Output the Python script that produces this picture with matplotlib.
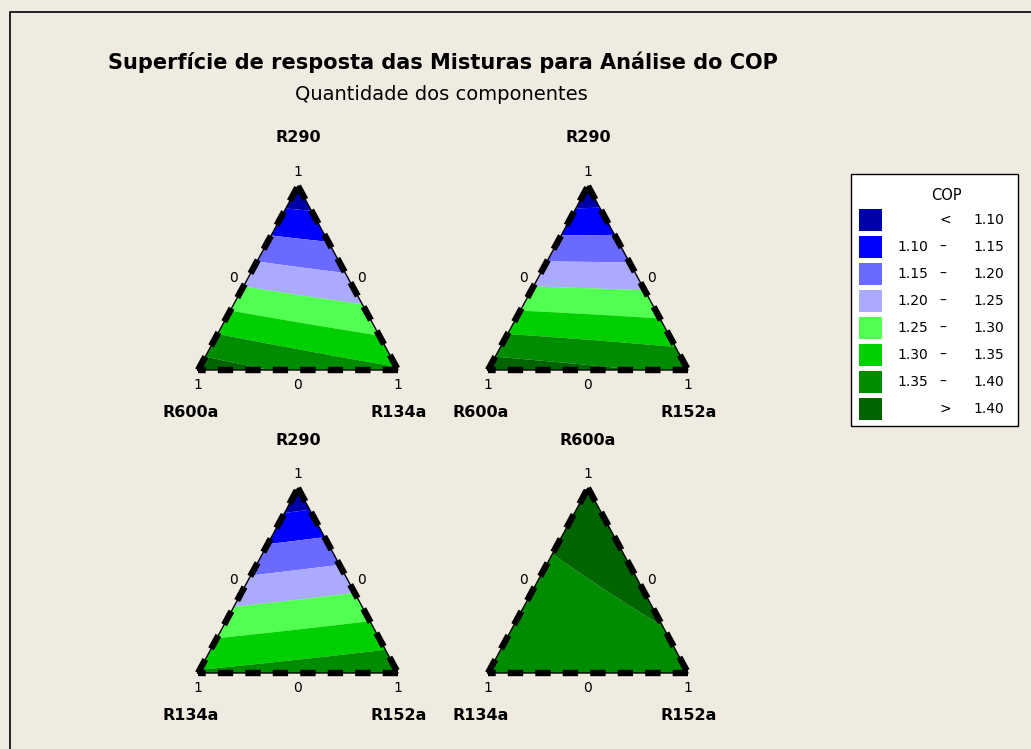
import numpy as np
import matplotlib
matplotlib.use("Agg")
import matplotlib.pyplot as plt
import matplotlib.tri as mtri
from matplotlib.patches import Rectangle

W, H = 1031, 749

# Scheffé quadratic mixture model for COP:
# COP of each pure refrigerant and of each 50/50 binary blend
components = ["R290", "R600a", "R134a", "R152a"]
pure_cop = [1.060, 1.430, 1.355, 1.390]
binary_pairs = [("R290", "R600a"), ("R290", "R134a"), ("R290", "R152a"),
                ("R600a", "R134a"), ("R600a", "R152a"), ("R134a", "R152a")]
binary_mid_cop = [1.233, 1.208, 1.228, 1.389, 1.410, 1.372]

# Contour bands
levels = [1.10, 1.15, 1.20, 1.25, 1.30, 1.35, 1.40]
band_colors = ["#0000AA", "#0000FF", "#6A6AFF", "#AAAAFF",
               "#50FF50", "#00D000", "#008C00", "#006400"]

# Panels: (top, left, right) vertex components
panels = [("R290", "R600a", "R134a"),
          ("R290", "R600a", "R152a"),
          ("R290", "R134a", "R152a"),
          ("R600a", "R134a", "R152a")]

title = "Superfície de resposta das Misturas para Análise do COP"
subtitle = "Quantidade dos componentes"
legend_title = "COP"

BG = "#EFEBE1"

# panel placement in pixels: left x of base, base y, apex y
panel_boxes = [(198, 370, 186), (488, 370, 186), (198, 673, 488), (488, 673, 488)]


def cop_model(frac):
    """frac: dict component -> array of proportions"""
    idx = {c: i for i, c in enumerate(components)}
    z = 0.0
    for c, x in frac.items():
        z = z + pure_cop[idx[c]] * x
    for (a, b), m in zip(binary_pairs, binary_mid_cop):
        if a in frac and b in frac:
            bij = 4.0 * (m - 0.5 * (pure_cop[idx[a]] + pure_cop[idx[b]]))
            z = z + bij * frac[a] * frac[b]
    return z


# triangular grid of mixture points
n = 160
tops, rights = [], []
for i in range(n + 1):
    for j in range(n + 1 - i):
        tops.append(i / n)
        rights.append(j / n)
tops = np.array(tops)
rights = np.array(rights)
lefts = 1.0 - tops - rights
gx = rights + 0.5 * tops
gy = tops
triang = mtri.Triangulation(gx, gy)

fig = plt.figure(figsize=(W / 100, H / 100), dpi=100, facecolor=BG)


def ftext(x, y, s, **kw):
    kw.setdefault("ha", "center")
    kw.setdefault("va", "center")
    fig.text(x / W, 1 - y / H, s, **kw)


# outer frame
fig.patches.append(Rectangle((10 / W, -0.05), 1.2, 1 - 12 / H + 0.05,
                             transform=fig.transFigure, fill=False,
                             edgecolor="black", linewidth=1.2))

fill_levels = [0.0] + levels + [3.0]
for (top, left, right), (x0, base, apex) in zip(panels, panel_boxes):
    ax = fig.add_axes([x0 / W, 1 - base / H, 200 / W, (base - apex) / H])
    ax.set_xlim(0, 1)
    ax.set_ylim(0, 1)
    ax.axis("off")
    z = cop_model({top: tops, left: lefts, right: rights})
    ax.tricontourf(triang, z, levels=fill_levels, colors=band_colors,
                   antialiased=True)
    ax.plot([0, 0.5, 1, 0], [0, 1, 0, 0], color="black", lw=1.0,
            clip_on=False)
    for xs, ys in (([0, 0.5], [0, 1]), ([0.5, 1], [1, 0]), ([1, 0], [0, 0])):
        ax.plot(xs, ys, color="black", lw=4.6, ls=(0, (2.4, 1.9)),
                dash_capstyle="butt", clip_on=False)

    xm = x0 + 100
    ymid = 0.5 * (base + apex)
    num_kw = dict(fontsize=10, family="DejaVu Sans")
    name_kw = dict(fontsize=11.5, family="DejaVu Sans", fontweight="bold")
    ftext(xm, apex - 48, top, **name_kw)
    ftext(xm, apex - 14, "1", **num_kw)
    ftext(x0 + 50 - 14, ymid, "0", **num_kw)
    ftext(x0 + 150 + 13, ymid, "0", **num_kw)
    ftext(x0, base + 15, "1", **num_kw)
    ftext(xm, base + 15, "0", **num_kw)
    ftext(x0 + 200, base + 15, "1", **num_kw)
    ftext(x0 - 7, base + 42, left, **name_kw)
    ftext(x0 + 201, base + 42, right, **name_kw)

# titles
ftext(443, 62, title, fontsize=15, fontweight="bold", family="DejaVu Sans")
ftext(441, 95, subtitle, fontsize=14, family="DejaVu Sans")

# legend
fig.patches.append(Rectangle((851 / W, 1 - 426 / H), 167 / W, 252 / H,
                             transform=fig.transFigure, facecolor="white",
                             edgecolor="black", linewidth=1.0))
ftext(946, 195, legend_title, fontsize=10.5, family="DejaVu Sans")
fmt = "{:.2f}"
for k, col in enumerate(band_colors):
    yc = 220 + 26.96 * k
    fig.patches.append(Rectangle((859 / W, 1 - (yc + 11) / H), 23 / W, 22 / H,
                                 transform=fig.transFigure, facecolor=col,
                                 edgecolor="none"))
    if k == 0:
        ftext(945, yc, "<", fontsize=10)
        ftext(1004, yc, fmt.format(levels[0]), fontsize=10, ha="right")
    elif k == len(band_colors) - 1:
        ftext(945, yc, ">", fontsize=10)
        ftext(1004, yc, fmt.format(levels[-1]), fontsize=10, ha="right")
    else:
        ftext(928, yc, fmt.format(levels[k - 1]), fontsize=10, ha="right")
        ftext(943, yc, "–", fontsize=10)
        ftext(1004, yc, fmt.format(levels[k]), fontsize=10, ha="right")

fig.savefig("out.png", dpi=100, facecolor=BG)
